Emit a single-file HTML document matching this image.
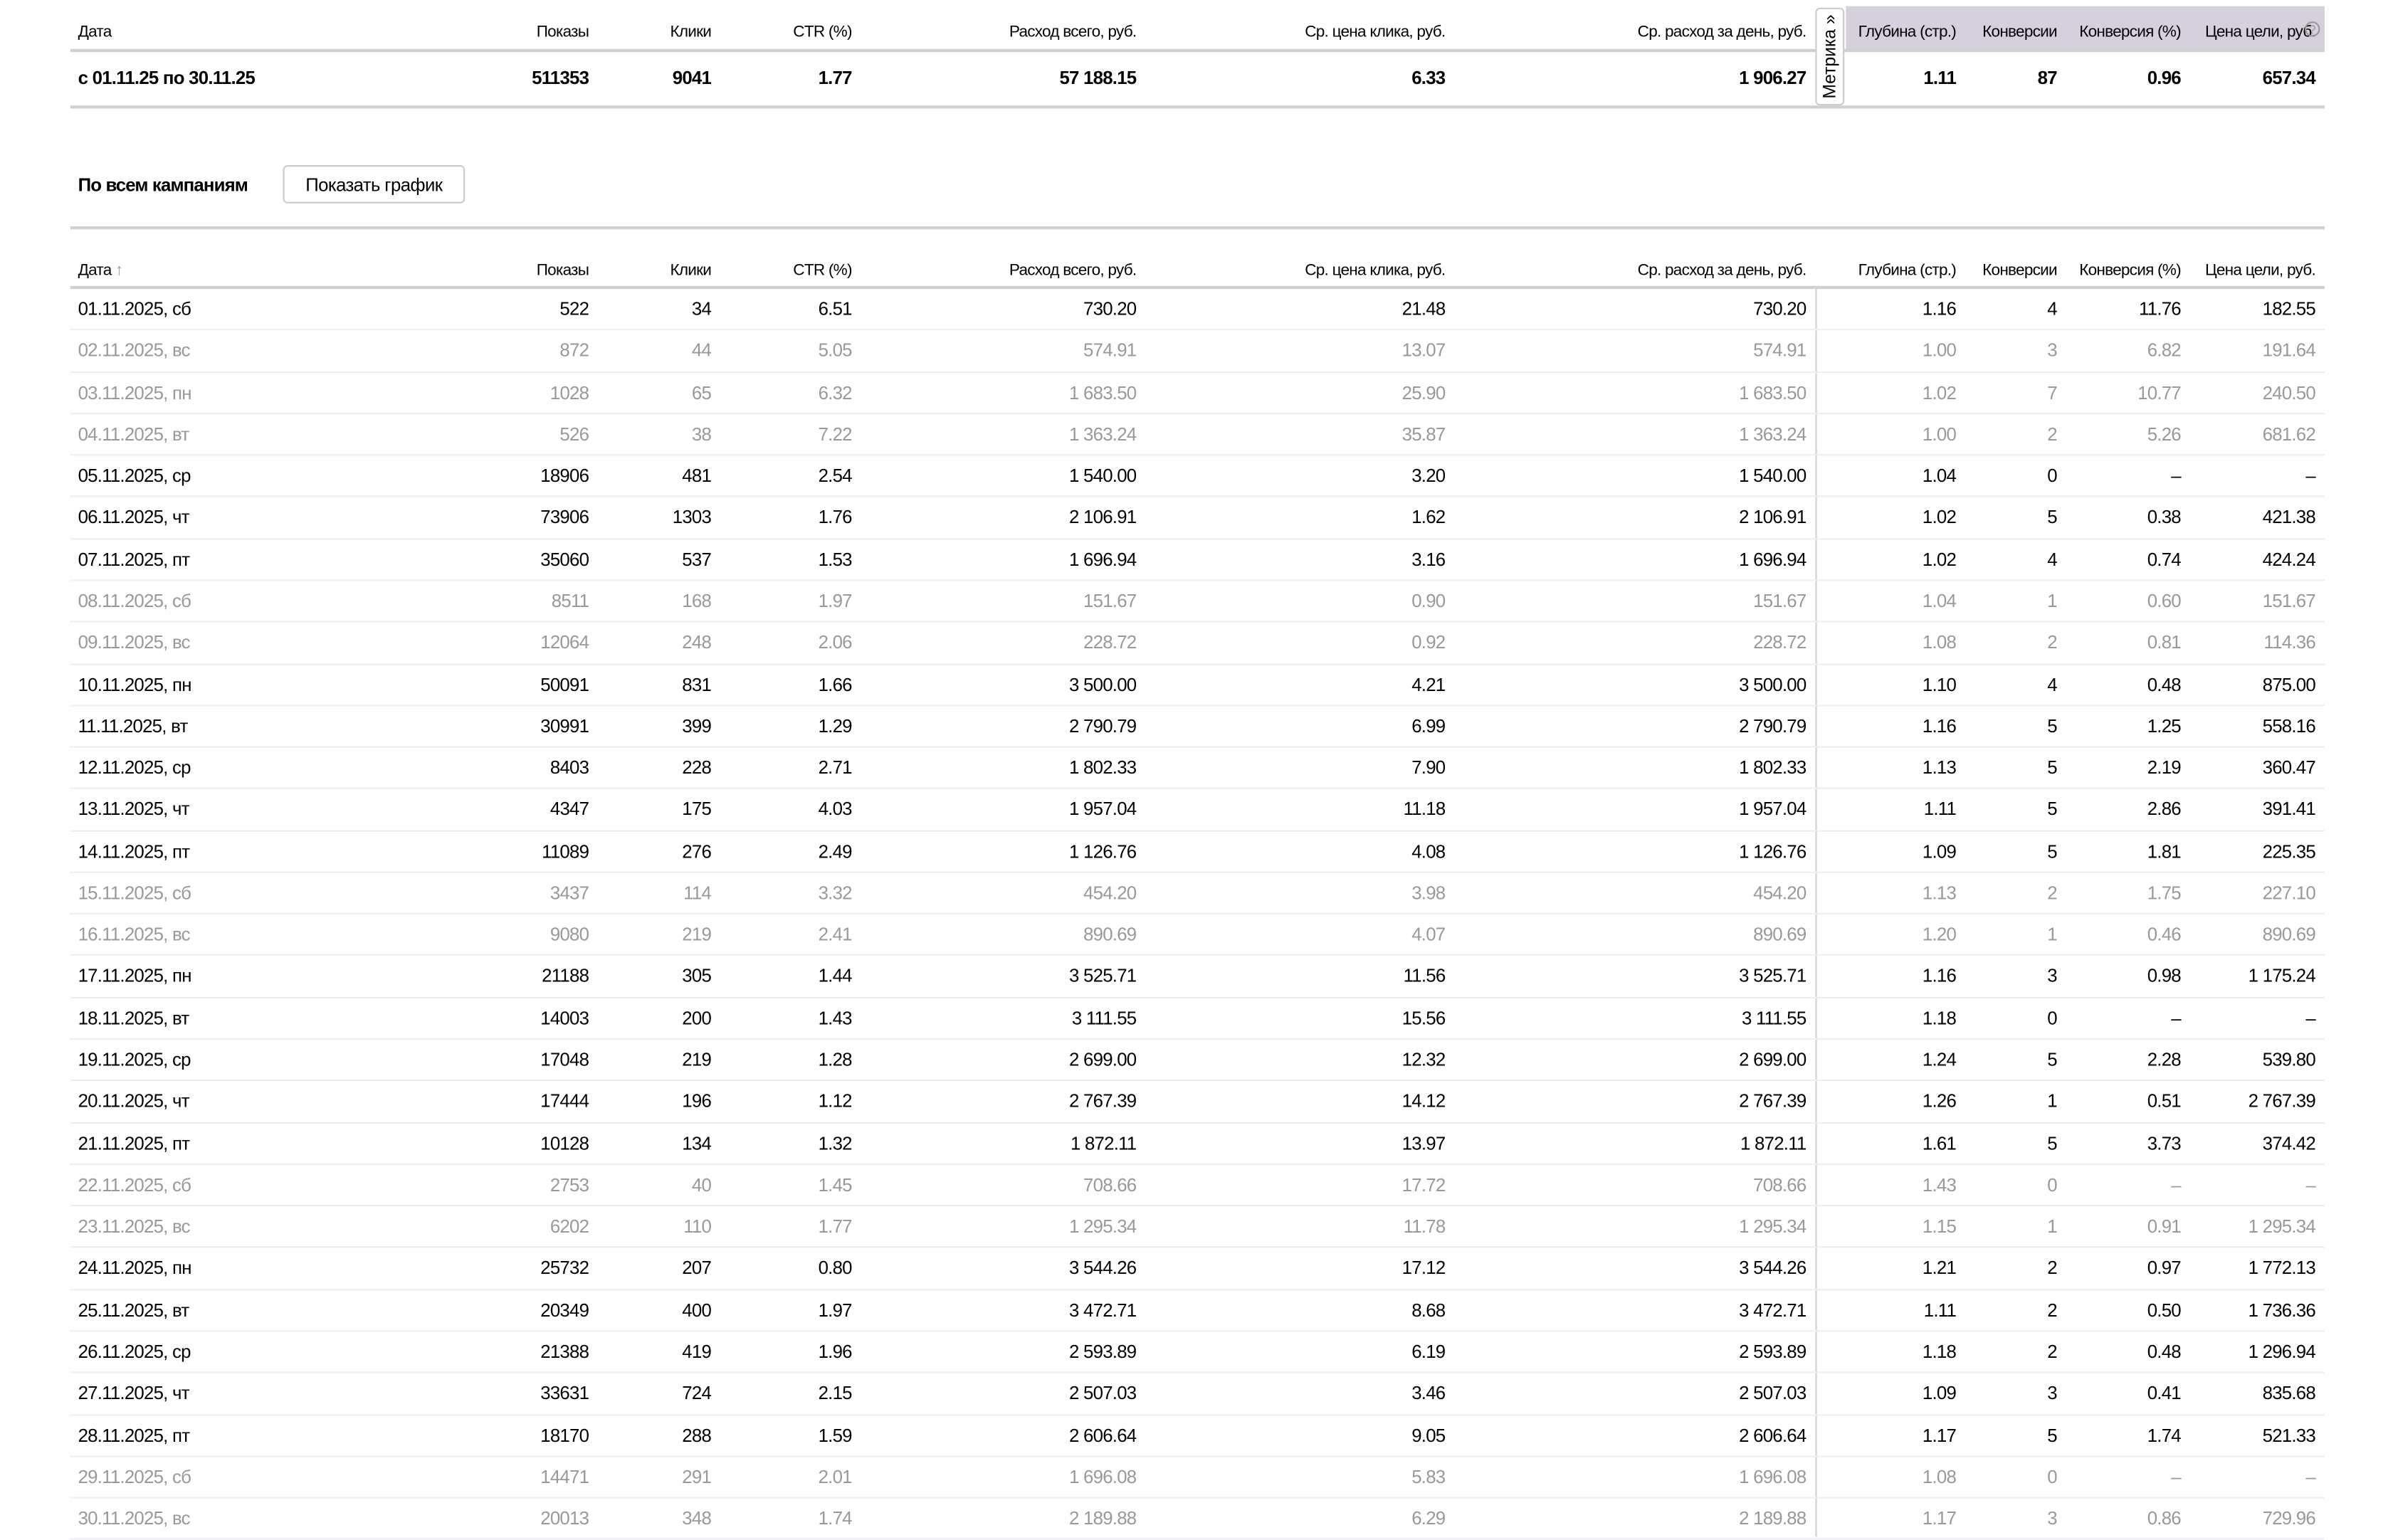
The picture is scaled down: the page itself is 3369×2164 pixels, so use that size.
<!DOCTYPE html>
<html><head><meta charset="utf-8">
<style>
html,body{margin:0;padding:0;background:#fff;}
body{width:3369px;height:2160px;overflow:hidden;}
#w{position:absolute;left:0;top:0;width:1568px;height:1005px;transform:scale(2.14860);transform-origin:0 0;font-family:"Liberation Sans",sans-serif;color:#000;}
.r{position:absolute;left:46px;width:1474px;height:27.28px;line-height:27.28px;font-size:12px;letter-spacing:-0.35px;border-bottom:1px solid #eeeef3;box-sizing:border-box;}
.r span{position:absolute;white-space:nowrap;}
.g{color:#999;}
.h{font-size:10.5px;}
.b{font-weight:bold;}
.c1{left:5px}.c2{right:1135px}.c3{right:1055px}.c4{right:963px}.c5{right:777px}.c6{right:575px}.c7{right:339px}.c8{right:241px}.c9{right:175px}.c10{right:94px}.c11{right:6px}
.line{position:absolute;left:46px;width:1474px;background:#d0d0d0;}
</style></head><body><div id="w">
<div style="position:absolute;left:1207px;top:4px;width:313px;height:29px;background:#d5d0dc;"></div>
<div class="r h" style="top:8px;border:none"><span class="c1">Дата</span><span class="c2">Показы</span><span class="c3">Клики</span><span class="c4">CTR (%)</span><span class="c5">Расход всего, руб.</span><span class="c6">Ср. цена клика, руб.</span><span class="c7">Ср. расход за день, руб.</span><span class="c8">Глубина (стр.)</span><span class="c9">Конверсии</span><span class="c10">Конверсия (%)</span><span class="c11">Цена цели, руб.</span></div>
<div class="line" style="top:32px;height:2px"></div>
<div class="r b" style="top:38px;border:none"><span class="c1">с 01.11.25 по 30.11.25</span><span class="c2">511353</span><span class="c3">9041</span><span class="c4">1.77</span><span class="c5">57 188.15</span><span class="c6">6.33</span><span class="c7">1 906.27</span><span class="c8">1.11</span><span class="c9">87</span><span class="c10">0.96</span><span class="c11">657.34</span></div>
<div class="line" style="top:69px;height:2px"></div>
<div style="position:absolute;left:1187px;top:5px;width:19px;height:64px;background:#fff;border:1px solid #ccc;border-radius:3px;box-sizing:border-box;"><div style="position:absolute;left:50%;top:50%;transform:translate(-50%,-50%) rotate(-90deg);font-size:11.5px;white-space:nowrap;">Метрика »</div></div>
<div style="position:absolute;left:1507px;top:14px;width:10px;height:10px;border:1px solid #999;border-radius:50%;box-sizing:border-box;font-size:8px;line-height:9px;text-align:center;color:#999">?</div>
<div style="position:absolute;left:51px;top:114px;font-size:12px;font-weight:bold;letter-spacing:-0.4px;font-family:'Liberation Sans',sans-serif">По всем кампаниям</div>
<div style="position:absolute;left:185px;top:108px;width:119px;height:25px;border:1px solid #ccc;border-radius:3px;box-sizing:border-box;font-size:12px;line-height:25px;text-align:center;letter-spacing:-0.3px">Показать график</div>
<div class="line" style="top:148px;height:2px"></div>
<div class="r h" style="top:164px;border:none"><span class="c1">Дата <span style="position:static;color:#999">↑</span></span><span class="c2">Показы</span><span class="c3">Клики</span><span class="c4">CTR (%)</span><span class="c5">Расход всего, руб.</span><span class="c6">Ср. цена клика, руб.</span><span class="c7">Ср. расход за день, руб.</span><span class="c8">Глубина (стр.)</span><span class="c9">Конверсии</span><span class="c10">Конверсия (%)</span><span class="c11">Цена цели, руб.</span></div>
<div class="line" style="top:187px;height:2px"></div>
<div style="position:absolute;left:1187px;top:189px;width:1px;height:816px;background:#d0d0d0"></div>
<div id="rows"></div>
<script>
var d=[
["01.11.2025, сб","522","34","6.51","730.20","21.48","730.20","1.16","4","11.76","182.55",0],
["02.11.2025, вс","872","44","5.05","574.91","13.07","574.91","1.00","3","6.82","191.64",1],
["03.11.2025, пн","1028","65","6.32","1 683.50","25.90","1 683.50","1.02","7","10.77","240.50",1],
["04.11.2025, вт","526","38","7.22","1 363.24","35.87","1 363.24","1.00","2","5.26","681.62",1],
["05.11.2025, ср","18906","481","2.54","1 540.00","3.20","1 540.00","1.04","0","–","–",0],
["06.11.2025, чт","73906","1303","1.76","2 106.91","1.62","2 106.91","1.02","5","0.38","421.38",0],
["07.11.2025, пт","35060","537","1.53","1 696.94","3.16","1 696.94","1.02","4","0.74","424.24",0],
["08.11.2025, сб","8511","168","1.97","151.67","0.90","151.67","1.04","1","0.60","151.67",1],
["09.11.2025, вс","12064","248","2.06","228.72","0.92","228.72","1.08","2","0.81","114.36",1],
["10.11.2025, пн","50091","831","1.66","3 500.00","4.21","3 500.00","1.10","4","0.48","875.00",0],
["11.11.2025, вт","30991","399","1.29","2 790.79","6.99","2 790.79","1.16","5","1.25","558.16",0],
["12.11.2025, ср","8403","228","2.71","1 802.33","7.90","1 802.33","1.13","5","2.19","360.47",0],
["13.11.2025, чт","4347","175","4.03","1 957.04","11.18","1 957.04","1.11","5","2.86","391.41",0],
["14.11.2025, пт","11089","276","2.49","1 126.76","4.08","1 126.76","1.09","5","1.81","225.35",0],
["15.11.2025, сб","3437","114","3.32","454.20","3.98","454.20","1.13","2","1.75","227.10",1],
["16.11.2025, вс","9080","219","2.41","890.69","4.07","890.69","1.20","1","0.46","890.69",1],
["17.11.2025, пн","21188","305","1.44","3 525.71","11.56","3 525.71","1.16","3","0.98","1 175.24",0],
["18.11.2025, вт","14003","200","1.43","3 111.55","15.56","3 111.55","1.18","0","–","–",0],
["19.11.2025, ср","17048","219","1.28","2 699.00","12.32","2 699.00","1.24","5","2.28","539.80",0],
["20.11.2025, чт","17444","196","1.12","2 767.39","14.12","2 767.39","1.26","1","0.51","2 767.39",0],
["21.11.2025, пт","10128","134","1.32","1 872.11","13.97","1 872.11","1.61","5","3.73","374.42",0],
["22.11.2025, сб","2753","40","1.45","708.66","17.72","708.66","1.43","0","–","–",1],
["23.11.2025, вс","6202","110","1.77","1 295.34","11.78","1 295.34","1.15","1","0.91","1 295.34",1],
["24.11.2025, пн","25732","207","0.80","3 544.26","17.12","3 544.26","1.21","2","0.97","1 772.13",0],
["25.11.2025, вт","20349","400","1.97","3 472.71","8.68","3 472.71","1.11","2","0.50","1 736.36",0],
["26.11.2025, ср","21388","419","1.96","2 593.89","6.19","2 593.89","1.18","2","0.48","1 296.94",0],
["27.11.2025, чт","33631","724","2.15","2 507.03","3.46","2 507.03","1.09","3","0.41","835.68",0],
["28.11.2025, пт","18170","288","1.59","2 606.64","9.05","2 606.64","1.17","5","1.74","521.33",0],
["29.11.2025, сб","14471","291","2.01","1 696.08","5.83","1 696.08","1.08","0","–","–",1],
["30.11.2025, вс","20013","348","1.74","2 189.88","6.29","2 189.88","1.17","3","0.86","729.96",1]];
var h="";
for(var i=0;i<d.length;i++){var r=d[i];h+='<div class="r'+(r[11]?' g':'')+'" style="top:'+(189+27.28*i).toFixed(2)+'px">';
for(var j=0;j<11;j++)h+='<span class="c'+(j+1)+'">'+r[j]+'</span>';h+='</div>';}
document.getElementById('rows').innerHTML=h;
</script>
</div></body></html>
